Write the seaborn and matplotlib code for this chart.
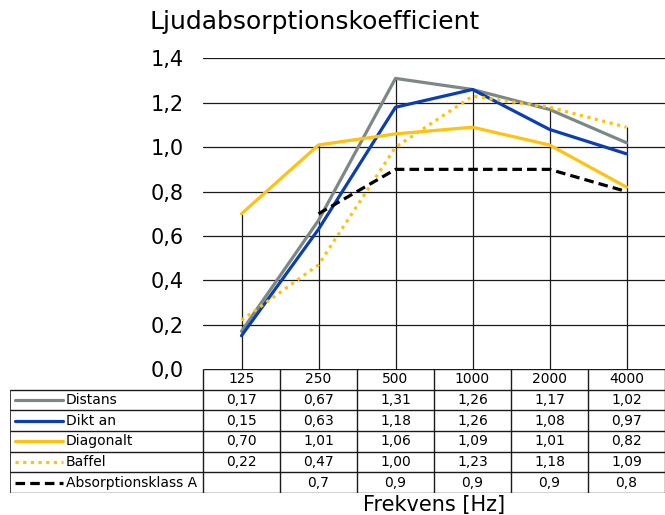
import numpy as np
import pandas as pd
import matplotlib
matplotlib.use('Agg')
import matplotlib.pyplot as plt
import seaborn as sns

# data
freqs = ['125', '250', '500', '1000', '2000', '4000']
distans = [0.17, 0.67, 1.31, 1.26, 1.17, 1.02]
dikt_an = [0.15, 0.63, 1.18, 1.26, 1.08, 0.97]
diagonalt = [0.70, 1.01, 1.06, 1.09, 1.01, 0.82]
baffel = [0.22, 0.47, 1.00, 1.23, 1.18, 1.09]
klass_a = [np.nan, 0.7, 0.9, 0.9, 0.9, 0.8]

names = ['Distans', 'Dikt an', 'Diagonalt', 'Baffel', 'Absorptionsklass A']
series = [distans, dikt_an, diagonalt, baffel, klass_a]
colors = ['#7b8886', '#0b3db3', '#ffc20e', '#ffc20e', '#000000']
styles = ['-', '-', '-', (0, (1, 1.4)), (0, (3, 1.6))]
yticks = [0.0, 0.2, 0.4, 0.6, 0.8, 1.0, 1.2, 1.4]

sns.set_style('white')
plt.rcParams['font.family'] = ['DejaVu Sans']
plt.rcParams['text.color'] = 'black'
plt.rcParams['ytick.color'] = 'black'

W, H = 665, 515
fig = plt.figure(figsize=(W / 100, H / 100), dpi=100)

# chart area (pixel layout from the reference)
ax = fig.add_axes([203 / W, 146 / H, 462 / W, 311 / H])
pos = np.arange(len(freqs))
ax.set_xlim(-0.5, len(freqs) - 0.5)
ax.set_ylim(0, 1.402)

for y in yticks[1:]:
    ax.axhline(y, color='#1a1a1a', lw=0.9, zorder=1)

tops = np.nanmax(np.array(series, dtype=float), axis=0)
ax.vlines(pos, 0, tops, color='#1a1a1a', lw=0.9, zorder=1)

for name, vals, c, ls in zip(names, series, colors, styles):
    sns.lineplot(x=pos, y=vals, color=c, lw=2.3, linestyle=ls,
                 estimator=None, ax=ax, zorder=3)

ax.set_xticks([])
ax.set_yticks(yticks)
ax.set_yticklabels([f'{v:.1f}'.replace('.', ',') for v in yticks])
ax.tick_params(axis='y', length=0, pad=14, labelsize=15, labelcolor='black')
ax.set_xlabel('')
ax.set_ylabel('')
for s in ax.spines.values():
    s.set_visible(False)

# data table below the chart
unit = 462 / len(freqs)
lab_w = 193 / unit
ax_t = fig.add_axes([10 / W, 22 / H, 655 / W, 124 / H])
x0 = -0.5 - lab_w
ax_t.set_xlim(x0, len(freqs) - 0.5)
ax_t.set_ylim(len(names) + 1, 0)
ax_t.axis('off')

lc = '#1a1a1a'
ax_t.hlines(0, -0.5, len(freqs) - 0.5, color=lc, lw=1.0)
ax_t.hlines(np.arange(1, len(names) + 2), x0, len(freqs) - 0.5, color=lc, lw=1.0)
ax_t.vlines(np.arange(len(freqs) + 1) - 0.5, 0, len(names) + 1, color=lc, lw=1.0)
ax_t.vlines(x0, 1, len(names) + 1, color=lc, lw=1.2)

for i, f in enumerate(freqs):
    ax_t.text(i, 0.5, f, ha='center', va='center', fontsize=10)

for r, (name, vals, c, ls) in enumerate(zip(names, series, colors, styles)):
    yc = r + 1.5
    ax_t.plot([x0 + 5 / unit, x0 + 53 / unit], [yc, yc], color=c, lw=2.3,
              linestyle=ls)
    ax_t.text(x0 + 56 / unit, yc, name, ha='left', va='center', fontsize=10)
    for i, v in enumerate(vals):
        if np.isnan(v):
            continue
        txt = f'{v:g}' if name == 'Absorptionsklass A' else f'{v:.2f}'
        ax_t.text(i, yc, txt.replace('.', ','), ha='center', va='center',
                  fontsize=10)

fig.text(150 / W, 1 - 22 / H, 'Ljudabsorptionskoefficient', ha='left',
         va='center', fontsize=18)
fig.text((203 + 665) / 2 / W, 1 - 505 / H, 'Frekvens [Hz]', ha='center',
         va='center', fontsize=15)

fig.savefig('out.png', dpi=100)
